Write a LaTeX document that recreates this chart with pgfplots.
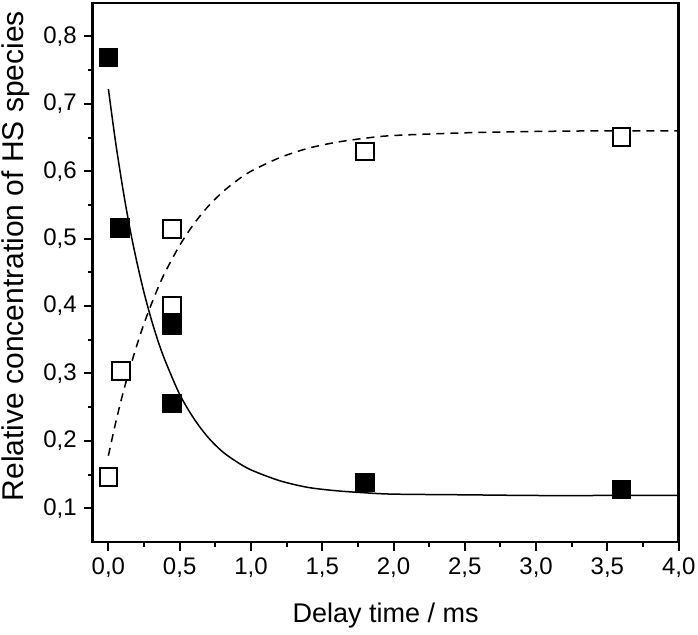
\documentclass[border=0pt]{standalone}
\usepackage{pgfplots}
\pgfplotsset{compat=1.18}
\usepackage{fontspec}
\setmainfont{Liberation Sans}
\begin{document}
\begin{tikzpicture}
\useasboundingbox (-46.35pt,-46pt) rectangle (302.65pt,271pt);
\begin{axis}[
  at={(0,0)}, anchor=south west,
  scale only axis,
  width=293pt, height=269.65pt,
  xmin=-0.11, xmax=4.0,
  ymin=0.05, ymax=0.85,
  xtick={0,0.5,...,4.0},
  ytick={0.1,0.2,...,0.81},
  minor tick num=1,
  tick align=outside,
  xtick pos=bottom, ytick pos=left,
  major tick length=4.5pt, minor tick length=2.5pt,
  every tick/.style={black, line width=1pt},
  axis line style={line width=1.2pt},
  tick label style={font=\fontsize{12}{14}\selectfont},
  /pgf/number format/assume math mode=true,
  /pgf/number format/.cd, use comma, fixed, fixed zerofill, precision=1,
  /pgfplots/.cd,
  xlabel={Delay time / ms},
  ylabel={Relative concentration of HS species},
  xlabel style={font=\fontsize{13.5}{15}\selectfont, at={([yshift=-40pt]axis description cs:0.5,0)}, anchor=base},
  ylabel style={font=\fontsize{15}{17}\selectfont, at={([xshift=-34.6pt]axis description cs:0,0.53)}, anchor=base},
  clip=true,
]
% fit curves
\addplot[black, line width=0.75pt, smooth, no marks] coordinates {
(0,0.722) (0.05,0.644) (0.1,0.576) (0.15,0.516) (0.2,0.465) (0.25,0.420)
(0.3,0.381) (0.35,0.347) (0.4,0.318) (0.5,0.269) (0.6,0.233) (0.7,0.205)
(0.8,0.184) (0.9,0.169) (1.0,0.157) (1.2,0.141) (1.4,0.131) (1.6,0.126)
(1.8,0.123) (2.0,0.121) (2.5,0.120) (3.0,0.119) (3.5,0.119) (4.0,0.119)
};
\addplot[black, line width=0.75pt, smooth, no marks, dash pattern=on 4pt off 3pt] coordinates {
(0,0.178) (0.05,0.226) (0.1,0.269) (0.15,0.307) (0.2,0.342) (0.25,0.374)
(0.3,0.402) (0.35,0.428) (0.4,0.451) (0.5,0.490) (0.6,0.522) (0.7,0.548)
(0.8,0.569) (0.9,0.586) (1.0,0.600) (1.2,0.620) (1.4,0.634) (1.6,0.643)
(1.8,0.649) (2.0,0.653) (2.5,0.657) (3.0,0.659) (3.5,0.660) (4.0,0.660)
};
% data
\addplot[only marks, mark=square*, mark size=4.6pt, mark options={fill=black, draw=black}] coordinates {
(0.0,0.769) (0.08,0.516) (0.445,0.372) (0.445,0.256) (1.8,0.138) (3.6,0.128)
};
\addplot[only marks, mark=square*, mark size=4.4pt, mark options={fill=white, draw=black, line width=1pt}] coordinates {
(0.0,0.146) (0.09,0.304) (0.445,0.514) (0.445,0.401) (1.8,0.629) (3.6,0.651)
};
\end{axis}
\end{tikzpicture}
\end{document}
